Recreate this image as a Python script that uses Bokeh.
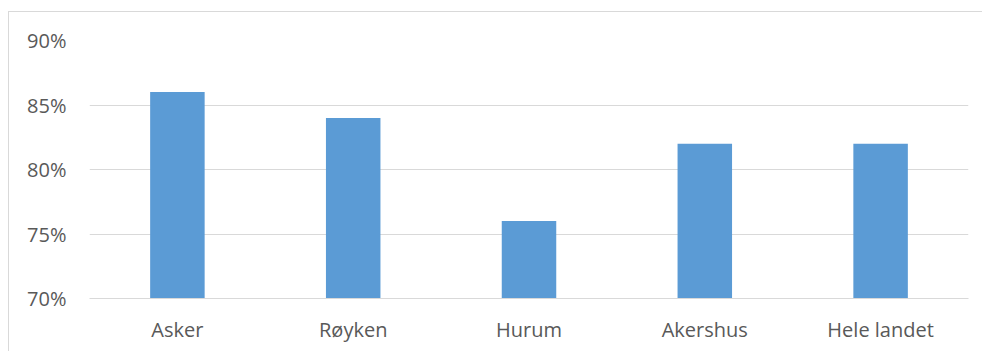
from bokeh.plotting import figure
from bokeh.models import NumeralTickFormatter, FixedTicker, Range1d
from bokeh.embed import file_html
from bokeh.resources import INLINE

categories = ["Asker", "Røyken", "Hurum", "Akershus", "Hele landet"]
values = [0.86, 0.84, 0.76, 0.82, 0.82]
y_ticks = [0.70, 0.75, 0.80, 0.85, 0.90]
y_min, y_max = 0.70, 0.90

FONT = "Open Sans"
TXT = "#595959"
GRID = "#d9d9d9"

p = figure(x_range=categories, y_range=Range1d(y_min, y_max),
           width=974, height=340, output_backend="svg", toolbar_location=None,
           min_border_left=80, min_border_right=15, min_border_top=28, min_border_bottom=54)
p.styles = {"border-left": "1px solid #d9d9d9", "border-top": "1px solid #d9d9d9",
            "margin-top": "11px", "margin-left": "8px"}

p.vbar(x=categories, top=values, bottom=y_min, width=0.31, color="#5B9BD5", line_color=None)

p.outline_line_color = None
p.xgrid.grid_line_color = None
p.ygrid.grid_line_color = GRID
p.ygrid.grid_line_width = 1

p.yaxis.ticker = FixedTicker(ticks=y_ticks)
p.yaxis.formatter = NumeralTickFormatter(format="0%")
p.yaxis.axis_line_color = None
p.yaxis.major_tick_line_color = None
p.yaxis.minor_tick_line_color = None
p.yaxis.major_tick_out = 0
p.yaxis.minor_tick_out = 0
p.yaxis.major_label_standoff = 23

p.xaxis.axis_line_color = GRID
p.xaxis.axis_line_width = 1
p.xaxis.major_tick_line_color = None
p.xaxis.minor_tick_line_color = None
p.xaxis.major_tick_out = 0
p.xaxis.minor_tick_out = 0
p.xaxis.major_label_standoff = 17

for ax in (p.xaxis, p.yaxis):
    ax.major_label_text_font = FONT
    ax.major_label_text_font_size = "20px"
    ax.major_label_text_color = TXT

open("out.html", "w").write(file_html(p, INLINE))
